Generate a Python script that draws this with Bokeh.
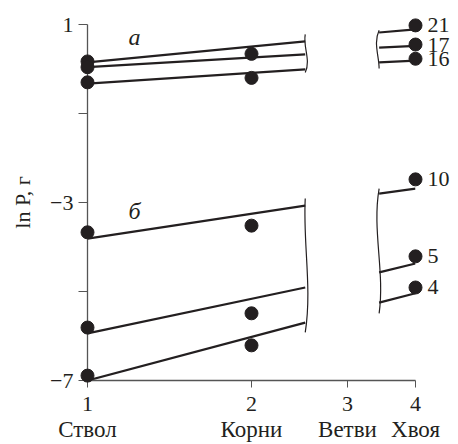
from bokeh.plotting import figure
from bokeh.models import Range1d, FixedTicker, LogAxis, Label
from bokeh.core.properties import value
from bokeh.embed import file_html
from bokeh.resources import INLINE

# ---- data ----
organs = ["Ствол", "Корни", "Ветви", "Хвоя"]
organ_pos = [1, 2, 3, 4]
y_ticks = [-7, -5, -3, -1, 1]
y_tick_labels = {-7: "−7", -5: "", -3: "−3", -1: "", 1: "1"}

# group а
a_stem = [0.17, 0.04, -0.30]
a_roots = [0.34, -0.20]
a_needles = [0.98, 0.55, 0.23]
a_needle_labels = ["21", "17", "16"]
# group б
b_stem = [-3.67, -5.81, -6.89]
b_roots = [-3.52, -5.49, -6.21]
b_needles = [-2.48, -4.21, -4.91]
b_needle_labels = ["10", "5", "4"]

# regression lines: values at x = 1, break_left, break_right, 4
break_left = 2.51
break_right = 3.43
a_lines = [[0.15, 0.62, 0.82, 0.89],
           [0.04, 0.33, 0.48, 0.52],
           [-0.33, -0.01, 0.15, 0.19]]
b_lines = [[-3.81, -3.07, -2.80, -2.69],
           [-5.94, -4.91, -4.57, -4.37],
           [-7.00, -5.70, -5.25, -5.04]]
# break marks (top, bottom)
a_break_left = (0.78, -0.08)
a_break_right = (0.87, 0.01)
b_break_left = (-2.91, -5.92)
b_break_right = (-2.69, -5.49)

FONT = "Liberation Serif"
INK = "#231f20"
FS = "22px"

p = figure(width=458, height=444, x_axis_type="log",
           x_range=Range1d(1, 4), y_range=Range1d(-7, 1),
           output_backend="svg", toolbar_location=None,
           min_border_left=87, min_border_right=43,
           min_border_top=24, min_border_bottom=64)
p.grid.visible = False
p.outline_line_color = None

# x axis: numbers
xa = p.xaxis[0]
xa.ticker = FixedTicker(ticks=organ_pos, minor_ticks=[])
xa.major_label_overrides = {v: str(v) for v in organ_pos}
xa.axis_line_color = "#555555"
xa.axis_line_width = 1.3
xa.major_tick_line_color = "#555555"
xa.major_tick_out = 7
xa.major_tick_in = 0
xa.minor_tick_line_color = None
xa.major_label_standoff = 9
xa.major_label_text_font = FONT
xa.major_label_text_font_size = FS
xa.major_label_text_color = INK

# x axis: organ names
xb = LogAxis(ticker=FixedTicker(ticks=organ_pos, minor_ticks=[]),
             major_label_overrides={v: n for v, n in zip(organ_pos, organs)})
xb.axis_line_color = None
xb.major_tick_line_color = None
xb.minor_tick_line_color = None
xb.major_tick_out = 0
xb.major_tick_in = 0
xb.major_label_standoff = 3
xb.major_label_text_font = FONT
xb.major_label_text_font_size = "23px"
xb.major_label_text_color = INK
p.add_layout(xb, "below")

ya = p.yaxis[0]
ya.ticker = FixedTicker(ticks=y_ticks, minor_ticks=[])
ya.major_label_overrides = y_tick_labels
ya.axis_line_color = "#555555"
ya.axis_line_width = 1.3
ya.major_tick_line_color = "#555555"
ya.major_tick_out = 9
ya.major_tick_in = 0
ya.minor_tick_line_color = None
ya.major_label_standoff = 5
ya.major_label_text_font = FONT
ya.major_label_text_font_size = FS
ya.major_label_text_color = INK
ya.axis_label = "ln P, г"
ya.axis_label_text_font = FONT
ya.axis_label_text_font_style = "normal"
ya.axis_label_text_font_size = FS
ya.axis_label_text_color = INK
ya.axis_label_standoff = 12

# regression lines (broken between Корни and Хвоя)
xs, ys = [], []
for ln in a_lines + b_lines:
    xs.append([1, break_left]); ys.append([ln[0], ln[1]])
    xs.append([break_right, 4]); ys.append([ln[2], ln[3]])
p.multi_line(xs, ys, line_color=INK, line_width=2.2)

# break marks
bx0, by0, bx1, by1, cx0, cy0, cx1, cy1 = [], [], [], [], [], [], [], []
for xb_, (top, bot), k0, k1 in [
        (break_left, a_break_left, 0.99, 1.025),
        (break_right, a_break_right, 0.975, 1.0),
        (break_left, b_break_left, 0.99, 1.03),
        (break_right, b_break_right, 0.97, 1.025)]:
    bx0.append(xb_); by0.append(top); bx1.append(xb_); by1.append(bot)
    cx0.append(xb_ * k0); cy0.append(top + (bot - top) / 3)
    cx1.append(xb_ * k1); cy1.append(top + 2 * (bot - top) / 3)
p.bezier(x0=bx0, y0=by0, x1=bx1, y1=by1, cx0=cx0, cy0=cy0, cx1=cx1, cy1=cy1,
         line_color=INK, line_width=1.2)

# points
px = [1] * len(a_stem) + [2] * len(a_roots) + [4] * len(a_needles) \
    + [1] * len(b_stem) + [2] * len(b_roots) + [4] * len(b_needles)
py = a_stem + a_roots + a_needles + b_stem + b_roots + b_needles
r = p.scatter(px, py, size=13, color=INK)
r.level = "overlay"

# needle labels
t = p.text(x=[4] * 6, y=a_needles + b_needles, text=a_needle_labels + b_needle_labels,
           x_offset=12, text_baseline="middle", text_font=value(FONT),
           text_font_size=FS, text_color=INK)
t.level = "overlay"

# group labels
p.add_layout(Label(x=1.22, y=0.71, text="а", text_font=FONT, text_font_style="italic",
                   text_font_size="24px", text_align="center", text_baseline="middle",
                   text_color=INK))
p.add_layout(Label(x=1.22, y=-3.18, text="б", text_font=FONT, text_font_style="italic",
                   text_font_size="24px", text_align="center", text_baseline="middle",
                   text_color=INK))

open("out.html", "w").write(file_html(p, INLINE))
